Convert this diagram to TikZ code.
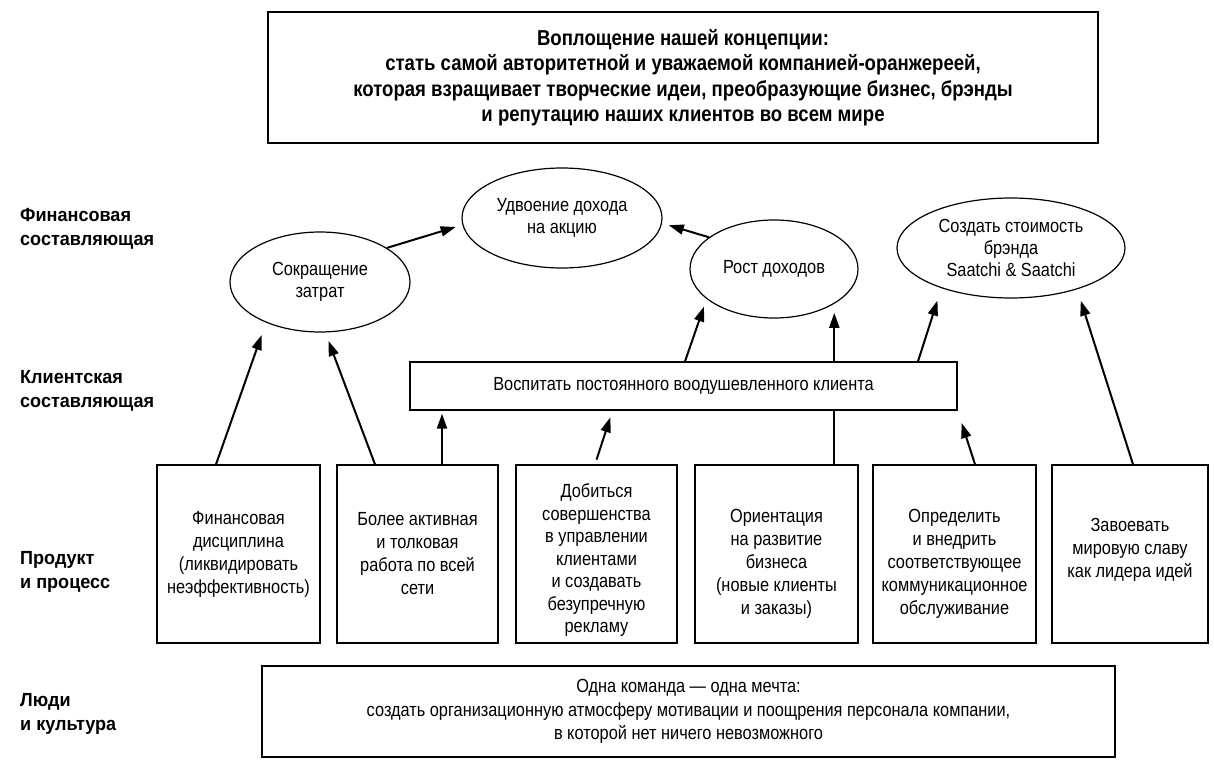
\documentclass[tikz,border=0pt]{standalone}
\usepackage{fontspec}
\setmainfont{Liberation Sans}[FakeStretch=0.86]
\newfontfamily\headfont{Liberation Sans}[FakeStretch=0.95]
\usetikzlibrary{arrows.meta,shapes.geometric}

\begin{document}
\begin{tikzpicture}[x=1pt,y=-1pt,
  frame/.style={draw=black, line width=1.3pt, inner sep=0pt, align=center},
  oval/.style={draw=black, line width=1.2pt, ellipse, inner sep=0pt, align=center,
               font=\fontsize{19}{22}\selectfont},
  boxtext/.style={align=center, inner sep=0pt, font=\fontsize{19}{23}\selectfont},
  lbl/.style={anchor=west, align=left, inner sep=0pt,
              font=\headfont\bfseries\fontsize{19}{24}\selectfont},
  arr/.style={-{Triangle[length=15pt,width=10pt]}, line width=2pt},
  link/.style={line width=2pt}]
\useasboundingbox (0,0) rectangle (1214,778);

% mission statement
\node[frame, minimum width=830pt, minimum height=131pt,
      font=\bfseries\fontsize{21.6}{25.5}\selectfont] (vision) at (683,77.5)
  {Воплощение нашей концепции:\\
   стать самой авторитетной и уважаемой компанией-оранжереей,\\
   которая взращивает творческие идеи, преобразующие бизнес, брэнды\\
   и репутацию наших клиентов во всем мире};

% perspective labels
\node[lbl] (lfin) at (20,228.5) {Финансовая\\составляющая};
\node[lbl] (lcli) at (20,390.5) {Клиентская\\составляющая};
\node[lbl] (lprod) at (20,572) {Продукт\\и процесс};
\node[lbl] (lppl) at (20,714) {Люди\\и культура};

% financial goals
\node[oval, minimum width=180pt, minimum height=100pt] (ell1) at (320,282) {Сокращение\\затрат};
\node[oval, minimum width=200pt, minimum height=100pt] (ell2) at (562,218) {Удвоение дохода\\на акцию};
\node[oval, minimum width=168pt, minimum height=98pt] (ell3) at (774,269) {Рост доходов};
\node[oval, minimum width=228pt, minimum height=100pt] (ell4) at (1011,248) {Создать стоимость\\брэнда\\Saatchi \& Saatchi};

% client goal
\node[frame, minimum width=547pt, minimum height=48pt,
      font=\fontsize{19}{23}\selectfont] (client) at (683.5,386)
  {Воспитать постоянного воодушевленного клиента};

% product and process boxes
\node[frame, minimum width=163pt, minimum height=178pt] (b1) at (238.5,554) {};
\node[frame, minimum width=161pt, minimum height=178pt] (b2) at (417.5,554) {};
\node[frame, minimum width=161pt, minimum height=178pt] (b3) at (596.5,554) {};
\node[frame, minimum width=163pt, minimum height=178pt] (b4) at (776.5,554) {};
\node[frame, minimum width=163pt, minimum height=178pt] (b5) at (954.5,554) {};
\node[frame, minimum width=156pt, minimum height=178pt] (b6) at (1130,554) {};

\node[boxtext] (t1) at (b1.center) {Финансовая\\дисциплина\\(ликвидировать\\неэффективность)};
\node[boxtext] (t2) at (b2.center) {Более активная\\и толковая\\работа по всей\\сети};
\node[boxtext, font=\fontsize{19}{22.5}\selectfont] (t3) at ([yshift=-6pt]b3.center) {Добиться\\совершенства\\в управлении\\клиентами\\и создавать\\безупречную\\рекламу};
\node[boxtext] (t4) at ([yshift=-10pt]b4.center) {Ориентация\\на развитие\\бизнеса\\(новые клиенты\\и заказы)};
\node[boxtext] (t5) at ([yshift=-10pt]b5.center) {Определить\\и внедрить\\соответствующее\\коммуникационное\\обслуживание};
\node[boxtext] (t6) at ([yshift=4pt]b6.center) {Завоевать\\мировую славу\\как лидера идей};

% people and culture
\node[frame, minimum width=853pt, minimum height=91pt,
      font=\fontsize{19}{23.5}\selectfont] (people) at (688.5,711.5)
  {Одна команда — одна мечта:\\
   создать организационную атмосферу мотивации и поощрения персонала компании,\\
   в которой нет ничего невозможного};

% links between the goals
\draw[arr, shorten >=7pt] (ell1.27) -- (ell2.184);
\draw[arr, shorten >=7pt] (ell3.154) -- (ell2.357);
\draw[arr, shorten >=13pt] ([xshift=-22.5pt]b1.north) -- (ell1.217);
\draw[arr, shorten >=9pt] ([xshift=-42.5pt]b2.north) -- (ell1.276);
\draw[arr, shorten >=3pt] ([xshift=24.5pt]b2.north) -- ([xshift=24.5pt]b2.north |- client.south);
\draw[arr, shorten <=5pt, shorten >=7pt] ([xshift=-1.5pt]b3.north) -- ([xshift=-71pt]client.south);
\draw[arr, shorten >=8pt] ([xshift=1.5pt]client.north) -- (ell3.204);
\draw[link] (b4.north -| ell3.330) -- (client.south -| ell3.330);
\draw[arr, shorten >=9pt] (client.north -| ell3.330) -- (ell3.330);
\draw[arr, shorten >=13pt] ([xshift=234.5pt]client.north) -- (ell4.210);
\draw[arr, shorten >=13pt] ([xshift=20.5pt]b5.north) -- (client.south east);
\draw[arr, shorten >=12pt] ([xshift=3pt]b6.north) -- (ell4.328);
\end{tikzpicture}
\end{document}
